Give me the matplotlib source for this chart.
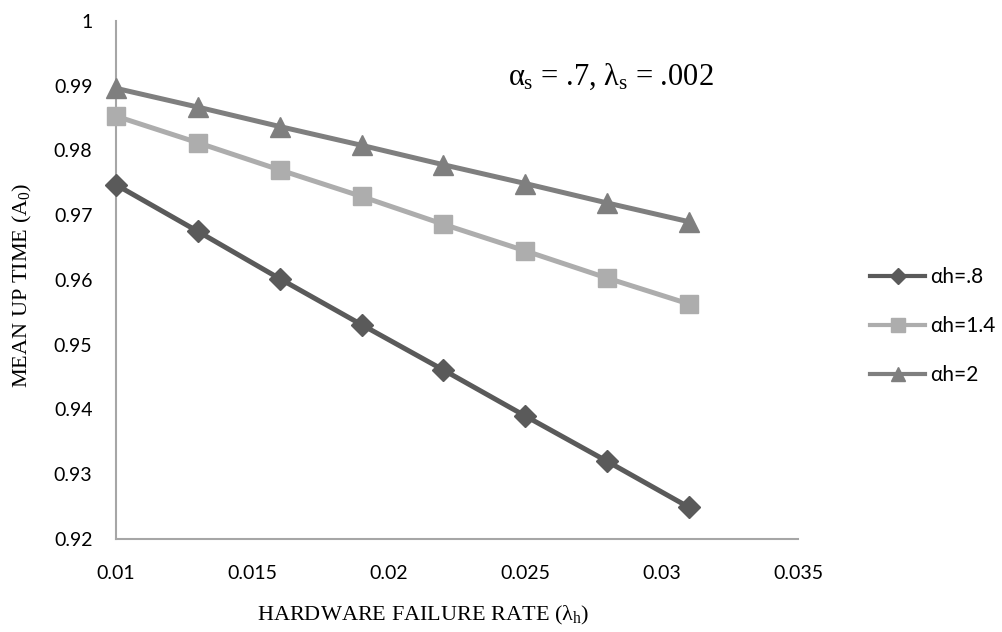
import matplotlib
matplotlib.use("Agg")
import matplotlib.pyplot as plt
from matplotlib.lines import Line2D

# ---- data ----
failure_rate = [0.010, 0.013, 0.016, 0.019, 0.022, 0.025, 0.028, 0.031]
ah_08 = [0.9747, 0.9675, 0.9602, 0.9531, 0.9461, 0.9390, 0.9320, 0.9249]
ah_14 = [0.9853, 0.9812, 0.9770, 0.9729, 0.9686, 0.9645, 0.9603, 0.9563]
ah_20 = [0.9896, 0.9867, 0.9837, 0.9808, 0.9778, 0.9749, 0.9719, 0.9690]
series_labels = ["αh=.8", "αh=1.4", "αh=2"]
x_ticks = [0.01, 0.015, 0.02, 0.025, 0.03, 0.035]
x_tick_labels = ["0.01", "0.015", "0.02", "0.025", "0.03", "0.035"]
y_ticks = [0.92, 0.93, 0.94, 0.95, 0.96, 0.97, 0.98, 0.99, 1.0]
y_tick_labels = ["0.92", "0.93", "0.94", "0.95", "0.96", "0.97", "0.98", "0.99", "1"]

plt.rcParams["mathtext.fontset"] = "custom"
plt.rcParams["mathtext.rm"] = "Liberation Serif"
plt.rcParams["mathtext.it"] = "Liberation Serif"
plt.rcParams["mathtext.bf"] = "Liberation Serif:bold"

sans = ["Lato", "DejaVu Sans"]
serif = ["Liberation Serif", "DejaVu Serif"]

fig = plt.figure(figsize=(10.03, 6.32), dpi=100)
ax = fig.add_axes([0.1157, 0.1472, 0.7956 - 0.1157, 0.9668 - 0.1472])

styles = [
    dict(color="#5a5a5a", marker="D", ms=11),
    dict(color="#adadad", marker="s", ms=13),
    dict(color="#7f7f7f", marker="^", ms=14),
]
for ys, st in zip([ah_08, ah_14, ah_20], styles):
    ax.plot(failure_rate, ys, color=st["color"], lw=3.6, marker=st["marker"],
            ms=st["ms"], mec=st["color"], mfc=st["color"], zorder=3, clip_on=False)

ax.set_xlim(0.01, 0.035)
ax.set_ylim(0.92, 1.0)
ax.set_xticks(x_ticks)
ax.set_xticklabels(x_tick_labels, family=sans, fontsize=14)
ax.set_yticks(y_ticks)
ax.set_yticklabels(y_tick_labels, family=sans, fontsize=14)
ax.tick_params(axis="x", length=0, pad=19)
ax.tick_params(axis="y", length=0, pad=17)
for s in ["top", "right"]:
    ax.spines[s].set_visible(False)
for s in ["left", "bottom"]:
    ax.spines[s].set_color("#a6a6a6")
    ax.spines[s].set_linewidth(1.5)

ax.set_xlabel("HARDWARE FAILURE RATE ($\\lambda_\\mathrm{h}$)", family=serif, fontsize=16)
ax.xaxis.set_label_coords(0.45, -0.125)
ax.set_ylabel("MEAN UP TIME (A$_0$)", family=serif, fontsize=16)
ax.yaxis.set_label_coords(-0.12, 0.49)

ax.text(0.02436, 0.9914, "$\\alpha_\\mathrm{s}$ = .7, $\\lambda_\\mathrm{s}$ = .002",
        family=serif, fontsize=22, ha="left", va="center")

handles = [Line2D([], [], color=st["color"], lw=3, marker=st["marker"],
                  ms=st["ms"] * 0.75, mec=st["color"], mfc=st["color"]) for st in styles]
fig.legend(handles, series_labels, loc="center left", bbox_to_anchor=(0.849, 0.484),
           frameon=False, prop=dict(family=sans, size=15), handlelength=2.64,
           handletextpad=0.25, labelspacing=1.38)

fig.savefig("out.png", dpi=100)
